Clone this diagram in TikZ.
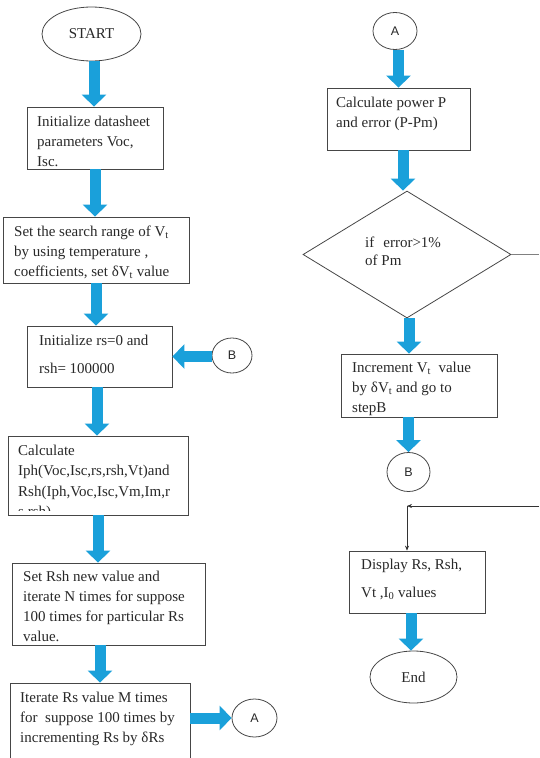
\documentclass[tikz,border=0pt]{standalone}
\usepackage{fontspec}
\setmainfont{Liberation Serif}
\newfontfamily\circfont{Liberation Sans}
\usetikzlibrary{arrows.meta,shapes.geometric}
\definecolor{fatblue}{RGB}{26,160,218}
\definecolor{edgec}{RGB}{70,70,70}
\definecolor{ink}{RGB}{40,40,40}
\begin{document}
\begin{tikzpicture}[x=1pt,y=-1pt,
  box/.style={draw=edgec, line width=0.8pt, rectangle, inner sep=0pt},
  txt/.style={anchor=north west, inner sep=0pt, align=left, text=ink, font=\fontsize{15}{20}\selectfont},
  circ/.style={draw=edgec, ellipse, line width=0.8pt, inner sep=0pt, text=ink, font=\circfont\fontsize{12.5}{14}\selectfont},
  oval/.style={draw=edgec, ellipse, line width=0.8pt, inner sep=0pt, text=ink, font=\fontsize{15}{18}\selectfont},
  fat/.style={line width=11pt, draw=fatblue, -{Triangle[width=24pt,length=12pt,fill=fatblue]}},
  greyline/.style={draw=gray, line width=0.9pt},
  thinarrow/.style={draw=black!80, line width=0.6pt, -{Stealth[length=5pt,width=4pt]}}]
\useasboundingbox (0,0) rectangle (539,758);

% ---- left column ----
\node[oval, minimum width=99pt, minimum height=54pt] (start) at (91.5,34) {START};
\node[box, minimum width=136pt, minimum height=62pt] (b1) at (95,138) {};
\node[txt] (t1) at (37,112) {\strut Initialize datasheet\\parameters Voc,\\Isc.};
\node[box, minimum width=186pt, minimum height=66pt] (b2) at (96,250) {};
\node[txt] (t2) at (14,222.5) {\strut Set the search range of V\textsubscript{t}\\by using temperature ,\\coefficients, set δV\textsubscript{t} value};
\node[box, minimum width=145pt, minimum height=61pt] (b3) at (99.5,356.5) {};
\node[txt] (t3) at (39,331.5) {\strut Initialize rs=0 and\\[8pt]rsh= 100000};
\node[circ, minimum width=40pt, minimum height=35pt] (Bl) at (232,355.5) {B};
\node[box, minimum width=180pt, minimum height=79pt] (b4) at (98,475.5) {};
\begin{scope}
\clip (9,437) rectangle (187,510);
\node[txt, font=\fontsize{15}{20.5}\selectfont] (t4) at (18,440.6) {\strut Calculate\\Iph(Voc,Isc,rs,rsh,Vt)and\\Rsh(Iph,Voc,Isc,Vm,Im,r\\s,rsh)};
\end{scope}
\node[box, minimum width=193pt, minimum height=82pt] (b5) at (108.5,604) {};
\node[txt] (t5) at (23,567.5) {\strut Set Rsh new value and\\iterate N times for suppose\\100 times for particular Rs\\value.};
\node[box, minimum width=180pt, minimum height=87pt] (b6) at (100,726.5) {};
\node[txt] (t6) at (20,688.5) {\strut Iterate Rs value M times\\for\ \ suppose 100 times by\\incrementing Rs by δRs};
\node[circ, minimum width=45pt, minimum height=38pt] (Ab) at (254.5,718) {A};

% ---- right column ----
\node[circ, minimum width=44pt, minimum height=37pt] (At) at (395,31) {A};
\node[box, minimum width=143pt, minimum height=62pt] (b7) at (398.5,119) {};
\node[txt] (t7) at (336,93.5) {\strut Calculate power P\\and error (P-Pm)};
\node[diamond, draw=edgec, line width=0.8pt, minimum width=208pt, minimum height=127pt, inner sep=0pt, aspect=1.64] (dia) at (407,254.5) {};
\node[txt, font=\fontsize{15}{18}\selectfont] (tD) at (365,234.5) {\strut if\hspace{9pt}error>1\%\\of Pm};
\node[box, minimum width=156pt, minimum height=63pt] (b8) at (419,385.5) {};
\begin{scope}
\clip (342,355) rectangle (496,415);
\node[txt] (t8) at (352,358.5) {\strut Increment V\textsubscript{t}\ \ value\\by δV\textsubscript{t} and go to\\stepB};
\end{scope}
\node[circ, minimum width=43pt, minimum height=39pt] (Br) at (408.5,472) {B};
\node[box, minimum width=136pt, minimum height=62pt] (b9) at (417,582) {};
\node[txt] (t9) at (361,555.5) {\strut Display Rs, Rsh,\\[8pt]Vt ,I\textsubscript{0} values};
\node[oval, minimum width=87pt, minimum height=52pt] (End) at (413.5,677) {End};

\coordinate (eR1) at (539,254.5);
\coordinate (eR2) at (539,506);
\coordinate (c1) at (407,506);

% ---- fat arrows ----
\draw[fat] ([xshift=2.5pt]start.south) -- ([xshift=-1pt]b1.north);
\draw[fat] (b1.south) -- (b1.south |- b2.north);
\draw[fat] (b2.south) -- (b2.south |- b3.north);
\draw[fat] (Bl.west |- b3.east) -- (b3.east);
\draw[fat] ([xshift=-2.5pt]b3.south) -- ([xshift=-2.5pt]b3.south |- b4.north);
\draw[fat] (b4.south) -- (b4.south |- b5.north);
\draw[fat] (b6.north |- b5.south) -- (b6.north);
\draw[fat] (b6.east |- Ab.west) -- (Ab.west);
\draw[fat] (b7.north |- At.south) -- (b7.north);
\draw[fat] ([xshift=4.5pt]b7.south) -- ([xshift=4.5pt]b7.south |- dia.north);
\draw[fat] ([xshift=2pt]dia.south) -- ([xshift=2pt]dia.south |- b8.north);
\draw[fat] (Br.north |- b8.south) -- (Br.north);
\draw[fat] ([xshift=-2.5pt]End.north |- b9.south) -- ([xshift=-2.5pt]End.north);

% ---- thin lines ----
\draw[greyline] (dia.east) -- (eR1);
\draw[thinarrow] (eR2) -- (c1);
\draw[thinarrow] (c1) -- (c1 |- b9.north);
\end{tikzpicture}
\end{document}
